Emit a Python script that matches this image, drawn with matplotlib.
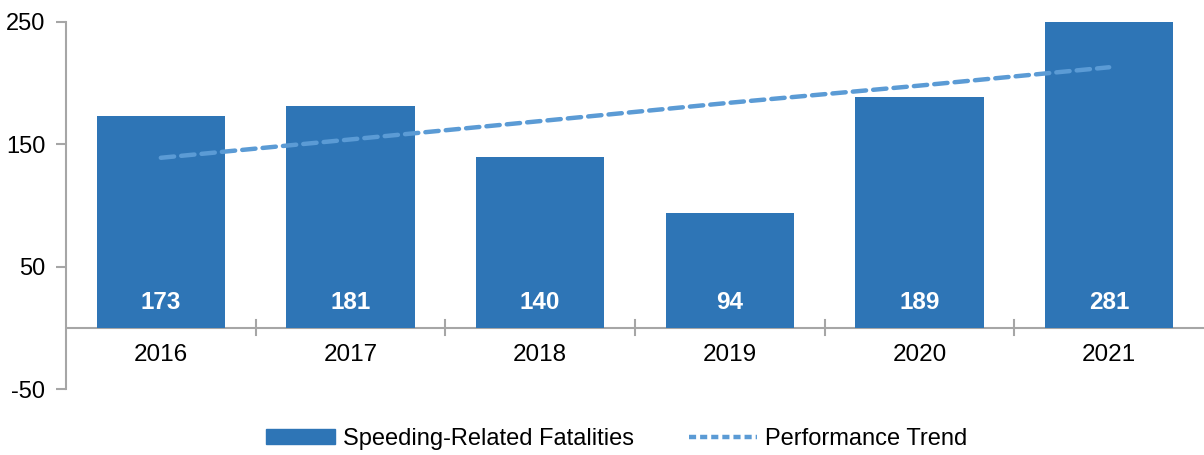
import matplotlib.pyplot as plt
import matplotlib.patches as mpatches
from matplotlib.lines import Line2D

years = ["2016", "2017", "2018", "2019", "2020", "2021"]
fatalities = [173, 181, 140, 94, 189, 281]
trend = [139, 154, 169, 184, 198, 213]
y_ticks = [-50, 50, 150, 250]

bar_color = "#2E75B6"
trend_color = "#5B9BD5"
axis_gray = "#A6A6A6"

plt.rcParams["font.family"] = ["Liberation Sans", "DejaVu Sans"]
plt.rcParams["axes.unicode_minus"] = False

fig = plt.figure(figsize=(12.04, 4.55), dpi=100)
ax = fig.add_axes([66 / 1204, 66 / 455, 1138 / 1204, 367 / 455])

x = list(range(len(years)))
ax.bar(x, fatalities, width=0.675, color=bar_color, zorder=2)
ax.plot(x, trend, color=trend_color, lw=3.2, dashes=(3, 1.6),
        dash_capstyle="round", zorder=3)

for xi, v in zip(x, fatalities):
    ax.text(xi, 21, str(v), ha="center", va="center", color="white",
            fontsize=17.5, fontweight="bold", zorder=4)

ax.set_xlim(-0.5, 5.5)
ax.set_ylim(-50, 250)
ax.set_yticks(y_ticks)
ax.tick_params(axis="y", direction="out", length=7, width=1.5, color=axis_gray,
               labelsize=17, pad=8)

# category labels just under the zero line
ax.set_xticks([])
for xi, lab in zip(x, years):
    ax.text(xi, -22, lab, ha="center", va="center", fontsize=17.5)
for b in [0.5, 1.5, 2.5, 3.5, 4.5]:
    ax.plot([b, b], [-6, 6], color=axis_gray, lw=1.5, zorder=1, clip_on=False)
ax.axhline(0, color=axis_gray, lw=1.5, zorder=1)

for s in ["top", "right", "bottom"]:
    ax.spines[s].set_visible(False)
ax.spines["left"].set_color(axis_gray)
ax.spines["left"].set_linewidth(1.5)

handles = [
    mpatches.Patch(color=bar_color, label="Speeding-Related Fatalities"),
    Line2D([0], [0], color=trend_color, lw=3.2, dashes=(1.6, 0.9),
           label="Performance Trend"),
]
fig.legend(handles=handles, loc="center", bbox_to_anchor=(617 / 1204, 1 - 439 / 455),
           ncol=2, frameon=False, fontsize=17, handlelength=2.9, handleheight=0.6,
           columnspacing=2.3, handletextpad=0.35)

plt.savefig("out.png", dpi=100)
plt.close()
